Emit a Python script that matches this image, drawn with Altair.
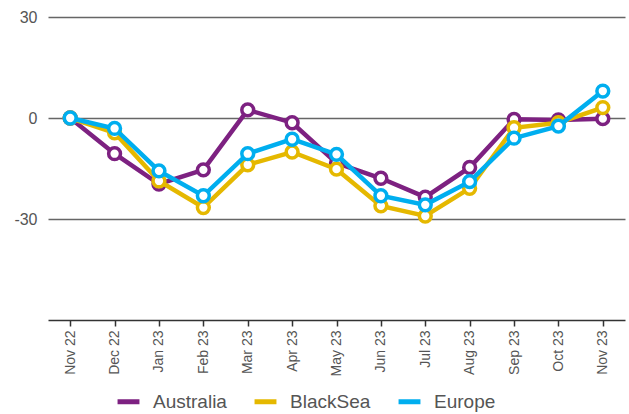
import altair as alt
import pandas as pd

months = ["Nov 22", "Dec 22", "Jan 23", "Feb 23", "Mar 23", "Apr 23", "May 23",
          "Jun 23", "Jul 23", "Aug 23", "Sep 23", "Oct 23", "Nov 23"]
australia = [0, -10.6, -19.6, -15.4, 2.4, -1.4, -13.4, -17.9, -23.5, -14.7, -0.4, -0.6, -0.2]
blacksea = [0, -4.4, -18.7, -26.6, -13.9, -10.1, -15.2, -26.1, -29.1, -20.9, -2.9, -1.4, 3.1]
europe = [0, -3.1, -15.7, -23.1, -10.6, -6.3, -10.8, -23.1, -25.8, -18.9, -6.0, -2.4, 8.0]

series_names = ["Australia", "BlackSea", "Europe"]
series_values = [australia, blacksea, europe]
colors = ["#7D2181", "#E5B800", "#00AEEF"]

rows = []
for name, vals in zip(series_names, series_values):
    for m, v in zip(months, vals):
        rows.append({"month": m, "value": v, "series": name})
df = pd.DataFrame(rows)

x_enc = alt.X("month:N", sort=months, title=None,
              scale=alt.Scale(type="point", padding=0.5),
              axis=alt.Axis(labelAngle=-90, labelFontSize=14, labelColor="#555",
                            labelFont="Liberation Sans", tickColor="#333",
                            tickSize=6, tickWidth=1.5, domainColor="#333",
                            domainWidth=1.5, labelPadding=4, grid=False))
y_enc = alt.Y("value:Q", title=None,
              scale=alt.Scale(domain=[-60, 30], nice=False, zero=False),
              axis=alt.Axis(values=[30, 0, -30], labelFontSize=16, labelColor="#555",
                            labelFont="Liberation Sans", ticks=False, domain=False,
                            labelExpr="toString(datum.value)",
                            gridColor="#666", gridWidth=1.5, labelPadding=11))
color_enc = alt.Color("series:N",
                      scale=alt.Scale(domain=series_names, range=colors),
                      legend=alt.Legend(title=None, orient="none", direction="horizontal",
                                        legendX=67, legendY=371, padding=0,
                                        symbolType="stroke", symbolStrokeWidth=5,
                                        symbolSize=480, labelFontSize=19,
                                        labelFont="Liberation Sans", labelColor="#555",
                                        labelOffset=11, columnPadding=17))

layers = []
for name in series_names:
    base = alt.Chart(df).transform_filter(alt.datum.series == name).encode(
        x=x_enc, y=y_enc, color=color_enc)
    layers.append(base.mark_line(strokeWidth=4.5))
    layers.append(base.mark_point(filled=False, fill="white", fillOpacity=1,
                                  size=140, strokeWidth=3.5, opacity=1))

chart = alt.layer(*layers).properties(
    width=577, height=303,
    autosize=alt.AutoSizeParams(type="none"),
    padding={"left": 48, "top": 17, "right": 4, "bottom": 94},
    background="white",
).configure_view(stroke=None)

chart.save("out.html", embed_options={"renderer": "svg", "actions": False})
